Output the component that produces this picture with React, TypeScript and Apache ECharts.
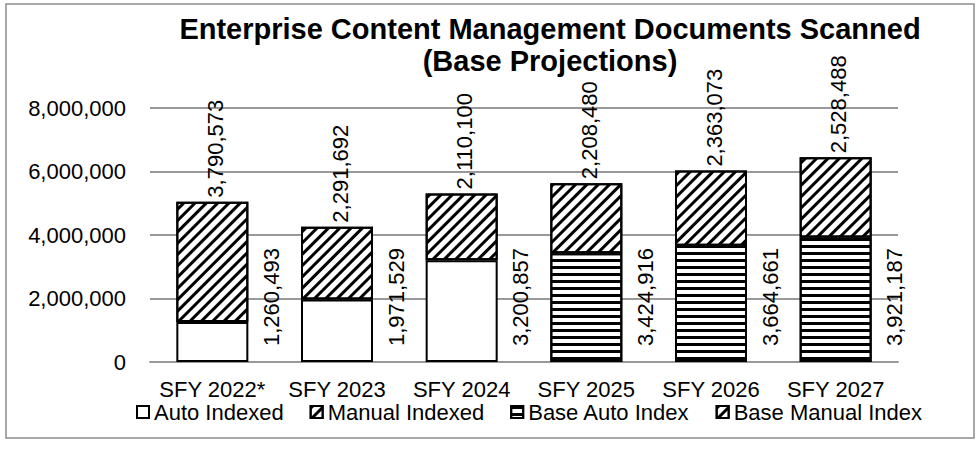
import React, { useEffect, useRef } from 'react';
import * as echarts from 'echarts';

const categories = ['SFY 2022*', 'SFY 2023', 'SFY 2024', 'SFY 2025', 'SFY 2026', 'SFY 2027'];
const autoIndexed = [1260493, 1971529, 3200857, null, null, null];
const manualIndexed = [3790573, 2291692, 2110100, null, null, null];
const baseAutoIndex = [null, null, null, 3424916, 3664661, 3921187];
const baseManualIndex = [null, null, null, 2208480, 2363073, 2528488];
const seriesNames = ['Auto Indexed', 'Manual Indexed', 'Base Auto Index', 'Base Manual Index'];
const yMin = 0;
const yMax = 8000000;
const yInterval = 2000000;

const FONT = '"Liberation Sans", Arial, sans-serif';

const fmt = (v: number) => Math.round(v).toLocaleString('en-US');

const diagDecal = {
  symbol: 'rect',
  symbolSize: 1,
  symbolKeepAspect: false,
  color: '#000',
  dashArrayX: [10, 0],
  dashArrayY: [3, 5],
  rotation: -Math.PI / 4,
};
const horizDecal = {
  symbol: 'rect',
  symbolSize: 1,
  symbolKeepAspect: false,
  color: '#000',
  dashArrayX: [10, 0],
  dashArrayY: [3, 4],
  rotation: 0,
};

const bottomLabel = {
  show: true,
  rotate: 90,
  position: 'insideBottom',
  distance: 0,
  align: 'left',
  verticalAlign: 'middle',
  offset: [16, 59],
  fontSize: 22,
  color: '#000',
  fontFamily: FONT,
  formatter: (p: any) => fmt(p.value),
};
const topLabel = {
  show: true,
  rotate: 90,
  position: 'top',
  distance: 4,
  align: 'left',
  verticalAlign: 'middle',
  offset: [0, 3],
  fontSize: 22,
  color: '#000',
  fontFamily: FONT,
  formatter: (p: any) => fmt(p.value),
};

const baseItemStyle = { color: '#fff', borderColor: '#000', borderWidth: 2 };

export default function App() {
  const ref = useRef<HTMLDivElement>(null);
  useEffect(() => {
    document.body.style.margin = '0';
    if (!ref.current) return;
    const chart = echarts.init(ref.current, null, { renderer: 'svg' });
    const seriesData = [autoIndexed, manualIndexed, baseAutoIndex, baseManualIndex];
    const decals = [null, diagDecal, horizDecal, diagDecal];
    const labels = [bottomLabel, topLabel, bottomLabel, topLabel];
    chart.setOption({
      animation: false,
      textStyle: { fontFamily: FONT },
      graphic: [
        {
          type: 'rect',
          shape: { x: 6, y: 4, width: 968, height: 434 },
          style: { fill: 'none', stroke: '#8c8c8c', lineWidth: 1.5 },
          silent: true,
        },
      ],
      title: {
        text: 'Enterprise Content Management Documents Scanned\n(Base Projections)',
        left: 545,
        top: 8,
        textAlign: 'center',
        textStyle: { fontSize: 29, fontWeight: 'bold', color: '#000', lineHeight: 32, fontFamily: FONT },
      },
      legend: {
        data: seriesNames,
        left: 131,
        top: 396,
        icon: 'rect',
        itemWidth: 12,
        itemHeight: 12,
        itemGap: 26,
        textStyle: { fontSize: 22, color: '#000', fontFamily: FONT },
      },
      grid: { left: 150, right: 82, top: 108, bottom: 87 },
      xAxis: {
        type: 'category',
        data: categories,
        axisLine: { show: true, lineStyle: { color: '#999', width: 2 } },
        axisTick: { show: false },
        axisLabel: { interval: 0, fontSize: 22, color: '#000', margin: 16, fontFamily: FONT },
      },
      yAxis: {
        type: 'value',
        min: yMin,
        max: yMax,
        interval: yInterval,
        axisLine: { show: false },
        axisTick: { show: false },
        splitLine: { show: true, lineStyle: { color: '#999', width: 2 } },
        axisLabel: { fontSize: 22, color: '#000', margin: 24, fontFamily: FONT, formatter: (v: number) => fmt(v) },
      },
      series: seriesNames.map((name, i) => ({
        name,
        type: 'bar',
        stack: 'total',
        barWidth: 72,
        data: seriesData[i],
        itemStyle: decals[i] ? { ...baseItemStyle, decal: decals[i] } : { ...baseItemStyle },
        label: labels[i],
      })),
    });
    return () => chart.dispose();
  }, []);
  return <div ref={ref} style={{ width: 980, height: 449 }} />;
}
